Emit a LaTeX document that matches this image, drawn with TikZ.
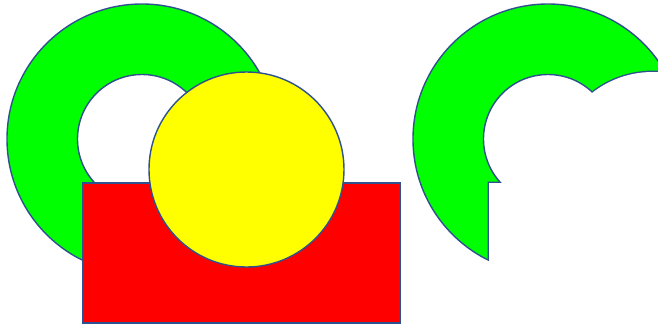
\documentclass[tikz,border=0pt]{standalone}
\usepackage{tikz}
\definecolor{ringgreen}{RGB}{0,255,0}
\definecolor{boxred}{RGB}{255,0,0}
\definecolor{discyellow}{RGB}{255,255,0}
\definecolor{edgeblue}{RGB}{47,82,143}

\begin{document}
\begin{tikzpicture}[
        x=0.03cm, y=-0.03cm,
        edge/.style={draw=edgeblue, line width=1.2pt},
        ring/.style={edge, fill=ringgreen, even odd rule},
        redbox/.style={edge, fill=boxred},
        disc/.style={edge, fill=discyellow}
    ]
        \useasboundingbox (0,0) rectangle (658,327);
        \clip (0,0) rectangle (658,327);

        % left: the three shapes stacked
        \path[ring] (142,139) circle (135) (142,139) circle (64.5);
        \path[redbox] (83,183) rectangle (400,323);
        \path[disc] (246.5,169.5) circle (97.5);

        % right: ring with box and disc taken away
        \begin{scope}[shift={(406,0)}]
            \path[ring] (142,139) circle (135) (142,139) circle (64.5);
            \begin{scope}[even odd rule]
                \clip (142,139) circle (135) (142,139) circle (64.5);
                \draw[edgeblue, line width=2.4pt] (83,183) rectangle (400,323) (246.5,169.5) circle (97.5);
            \end{scope}
            % inner half of the cut lines goes under the white
            \fill[white] (83,183) rectangle (400,323);
            \fill[white] (246.5,169.5) circle (97.5);
        \end{scope}
    \end{tikzpicture}
\end{document}
